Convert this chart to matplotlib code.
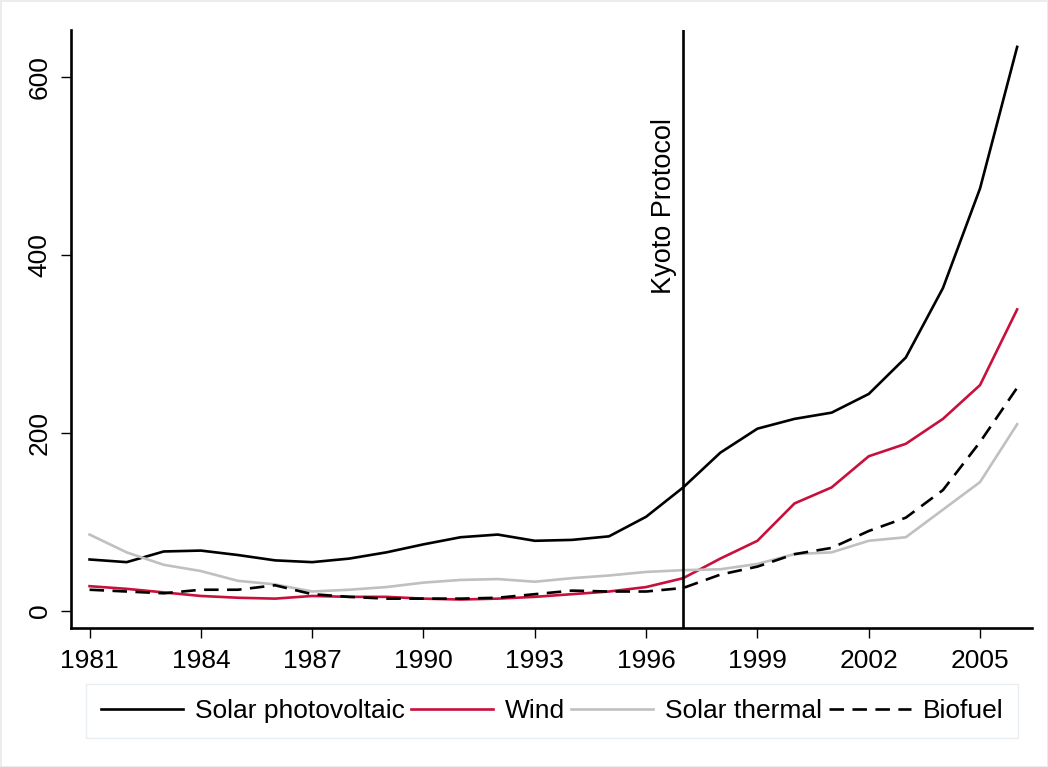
import matplotlib.pyplot as plt

years = list(range(1981, 2007))

solar_pv = [58, 55, 67, 68, 63, 57, 55, 59, 66, 75, 83, 86, 79, 80, 84, 106,
            139, 178, 205, 216, 223, 244, 285, 363, 475, 634]
wind = [28, 25, 21, 17, 15, 14, 17, 16, 16, 14, 13, 14, 16, 19, 22, 27,
        37, 59, 79, 121, 139, 174, 188, 216, 254, 339]
solar_thermal = [86, 66, 52, 45, 34, 30, 22, 24, 27, 32, 35, 36, 33, 37, 40, 44,
                 46, 47, 53, 64, 66, 79, 83, 114, 145, 210]
biofuel = [24, 22, 20, 24, 24, 29, 19, 16, 14, 14, 14, 15, 19, 23, 22, 22,
           26, 41, 50, 64, 71, 90, 105, 136, 190, 251]

xticks = list(range(1981, 2006, 3))
yticks = [0, 200, 400, 600]
kyoto_year = 1997

plt.rcParams['font.family'] = ['Liberation Sans', 'DejaVu Sans']

fig = plt.figure(figsize=(10.48, 7.67), dpi=100)
fig.patch.set_edgecolor('#ececec')
fig.patch.set_linewidth(1.0)
ax = fig.add_axes([71 / 1048, 1 - 628 / 767, (1032 - 71) / 1048, (628 - 30) / 767])

lw = 1.9
ax.plot(years, solar_pv, color='black', lw=lw, label='Solar photovoltaic')
ax.plot(years, wind, color='#c8103c', lw=lw, label='Wind')
ax.plot(years, solar_thermal, color='#c0c0c0', lw=lw, label='Solar thermal')
ax.plot(years, biofuel, color='black', lw=lw, dashes=(5.5, 3.2), label='Biofuel')

ax.axvline(kyoto_year, color='black', lw=lw)
ax.text(kyoto_year - 0.17, 554, 'Kyoto Protocol', rotation=90, ha='right', va='top', fontsize=19.5)

ax.set_xlim(1980.5, 2006.4)
ax.set_ylim(-19, 653)
ax.set_xticks(xticks)
ax.set_yticks(yticks)
ax.tick_params(axis='both', labelsize=19, length=7, width=1, direction='out')
ax.tick_params(axis='x', pad=8)
ax.tick_params(axis='y', pad=7)
for lab in ax.get_yticklabels():
    lab.set_rotation(90)
    lab.set_va('center')

for s in ['top', 'right']:
    ax.spines[s].set_visible(False)
ax.spines['left'].set_linewidth(lw)
ax.spines['bottom'].set_linewidth(lw)

leg = fig.legend(loc='center', bbox_to_anchor=((81 + 1023) / 2 / 1048, 1 - 711 / 767),
                 ncol=4, fontsize=19, frameon=True, fancybox=False,
                 handlelength=3.1, handletextpad=0.45, columnspacing=0.25,
                 borderpad=0.55, edgecolor='#e3eaee')
leg.get_frame().set_linewidth(1.0)

fig.savefig('out.png', dpi=100)
